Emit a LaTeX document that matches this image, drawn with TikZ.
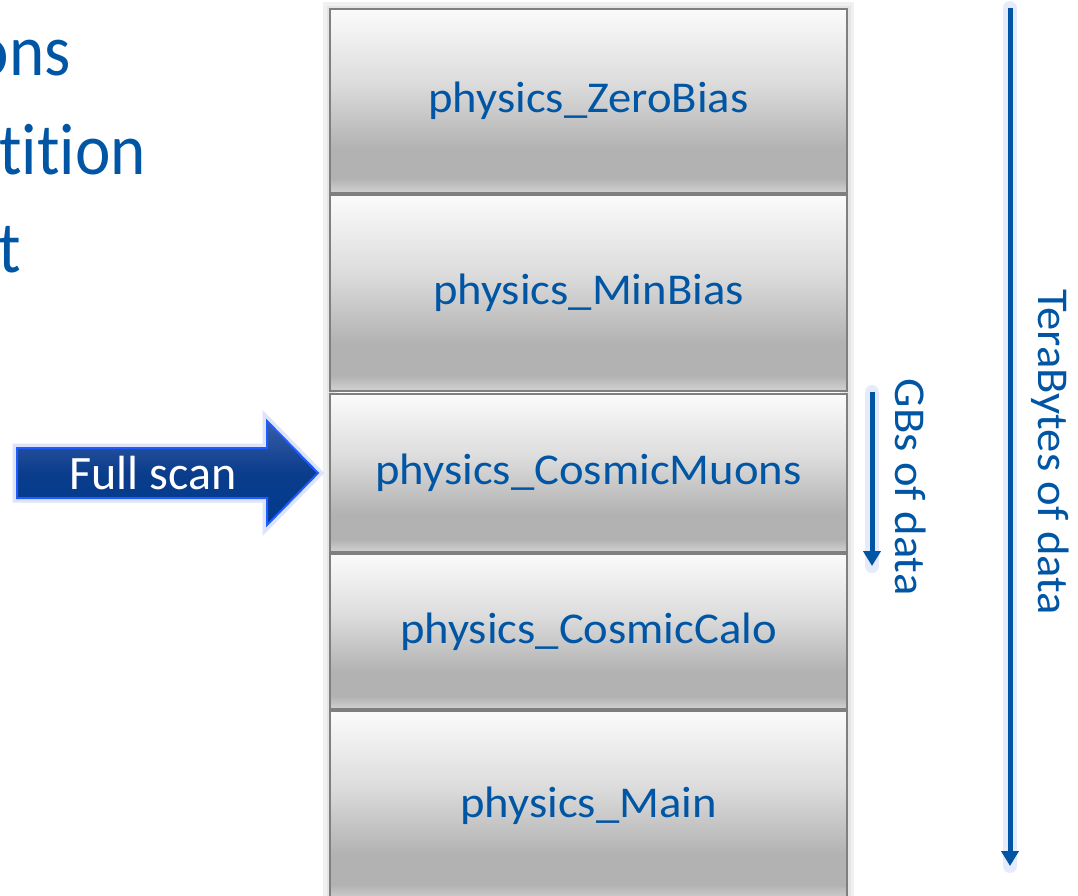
\documentclass[tikz,border=0pt]{standalone}
\usepackage{fontspec}
\setmainfont{Carlito}
\newfontfamily\widefont[FakeStretch=1.06]{Carlito}
\newfontfamily\leftfont[FakeStretch=0.92,Ligatures={NoCommon}]{Carlito}
\usetikzlibrary{arrows.meta}
\definecolor{txtblue}{HTML}{0056A4}
\definecolor{bxtop}{HTML}{FBFBFB}
\definecolor{bxlight}{HTML}{DCDCDC}
\definecolor{bxmid}{HTML}{B2B2B2}
\definecolor{bxbot}{HTML}{D2D2D2}
\definecolor{bxedge}{HTML}{7F7F7F}
\definecolor{arrtop}{HTML}{3A5EA6}
\definecolor{arrmid}{HTML}{0A3D8C}
\definecolor{arrbot}{HTML}{003A8E}
\definecolor{arredge}{HTML}{1F5CFF}
\definecolor{glow}{HTML}{DCE3FA}
\pgfdeclareverticalshading{boxshade}{100bp}{color(0bp)=(bxbot); color(25bp)=(bxbot); color(29bp)=(bxmid); color(37bp)=(bxmid); color(55bp)=(bxlight); color(75bp)=(bxtop); color(100bp)=(bxtop)}
\tikzset{
  databox/.style={draw=bxedge, line width=2pt, shading=boxshade, minimum width=517pt,
    inner sep=0pt, font=\widefont\fontsize{44}{52}\selectfont, text=txtblue},
  sidelabel/.style={rotate=-90, inner sep=0pt, font=\widefont\fontsize{44}{52}\selectfont, text=txtblue},
  bigtext/.style={inner sep=0pt, font=\leftfont\fontsize{73}{88}\selectfont, text=txtblue},
  sizearrow/.style={draw=txtblue, line width=5pt, -{Triangle[width=17pt,length=15pt]}},
  arrowglow/.style={draw=glow, line width=14pt, line cap=round, opacity=0.7},
}
\begin{document}
\begin{tikzpicture}[x=1pt,y=-1pt]
\useasboundingbox[fill=white] (0,0) rectangle (1078,895);
% left cut-off text
\node[bigtext, anchor=base east] (l1) at (71,75) {ons};
\node[bigtext, anchor=base east] (l2) at (146,174) {tition};
\node[bigtext, anchor=base east] (l3) at (21,272) {t};
% soft shadow behind stack
\draw[black!6, line width=14pt] (330,9) rectangle (847,905);
\draw[black!10, line width=7pt] (330,9) rectangle (847,905);
% stack of boxes
\node[databox, minimum height=184pt] (zb) at (588.5,101) {physics\_ZeroBias};
\node[databox, minimum height=196pt] (mb) at (588.5,293) {physics\_MinBias};
\node[databox, minimum height=158pt] (cm) at (588.5,473) {physics\_CosmicMuons};
\node[databox, minimum height=155pt] (cc) at (588.5,631.5) {physics\_CosmicCalo};
\node[databox, minimum height=189pt] (mn) at (588.5,805.5) {physics\_Main};
% Full scan arrow
\draw[line width=9pt, glow, line join=miter] (17,448) -- (267,448) -- (267,421) -- (318,473) -- (267,525) -- (267,498) -- (17,498) -- cycle;
\draw[draw=arredge, line width=2pt, top color=arrtop, bottom color=arrbot, middle color=arrmid]
  (17,448) -- (267,448) -- (267,421) -- (318,473) -- (267,525) -- (267,498) -- (17,498) -- cycle;
\node[inner sep=0pt, text=white, font=\fontsize{48}{56}\selectfont] (scan) at (153,473) {Full scan};
% size arrows
\coordinate (g1) at (872,392);
\coordinate (g2) at (872,566);
\coordinate (t1) at (1010,8);
\coordinate (t2) at (1010,866);
\draw[arrowglow] (g1) -- (g2);
\draw[arrowglow] (t1) -- (t2);
\draw[sizearrow] (g1) -- (g2);
\draw[sizearrow] (t1) -- (t2);
\node[sidelabel] (gbs) at (911,487) {GBs of data};
\node[sidelabel] (tb) at (1050,452) {TeraBytes of data};
\end{tikzpicture}
\end{document}
